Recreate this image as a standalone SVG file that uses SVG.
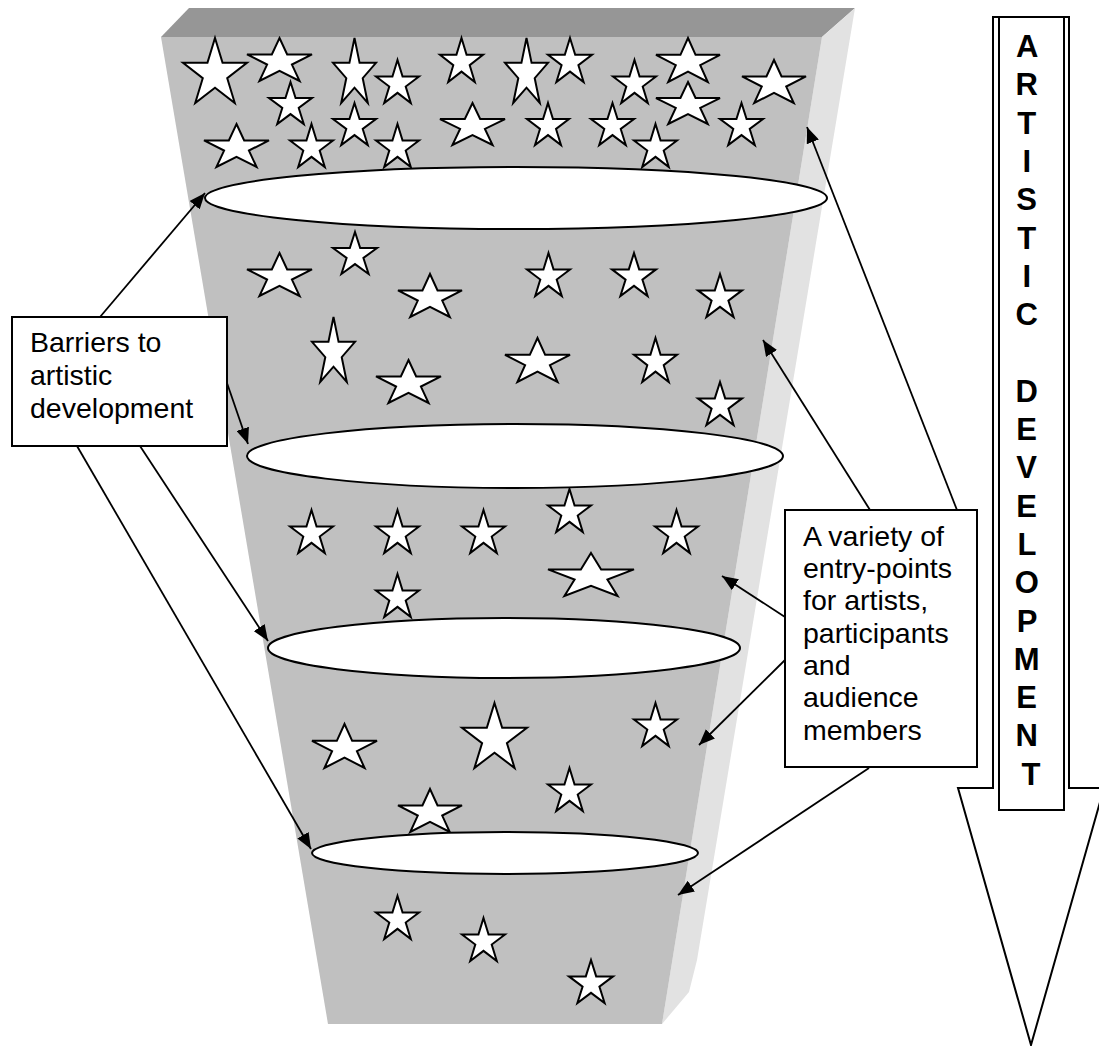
<svg xmlns="http://www.w3.org/2000/svg" xmlns:xlink="http://www.w3.org/1999/xlink" width="1099" height="1046" viewBox="0 0 1099 1046">
<style>
.star{fill:#fff;stroke:#000;stroke-width:2;stroke-linejoin:miter}
.ring{fill:#fff;stroke:#000;stroke-width:2}
.box{fill:#fff;stroke:#000;stroke-width:2}
.lbl{font-family:"Liberation Sans",Arial,sans-serif;font-size:28.5px;fill:#000}
.vert{font-family:"Liberation Sans",Arial,sans-serif;font-size:31px;font-weight:bold;fill:#000;text-anchor:middle}
.con{stroke:#000;stroke-width:1.8;fill:none;marker-end:url(#ah)}
</style>
<defs>
<path id="s" class="star" vector-effect="non-scaling-stroke" d="M50,0 L61.8,38.2 L100,38.2 L69.1,61.8 L80.9,100 L50,76.4 L19.1,100 L30.9,61.8 L0,38.2 L38.2,38.2 Z"/>
<marker id="ah" markerUnits="userSpaceOnUse" markerWidth="17" markerHeight="13" refX="16" refY="6.5" orient="auto">
<path d="M0,0 L16,6.5 L0,13 Z" fill="#000"/>
</marker>
</defs>
<rect width="1099" height="1046" fill="#fff"/>
<g id="funnel">
<polygon points="189,8 855,8 822,37 161,37" fill="#969696"/>
<polygon points="822,37 855,8 697,960 689,992 662,1024" fill="#e2e2e2"/>
<polygon points="161,37 822,37 662,1024 328,1024" fill="#c0c0c0"/>
</g>
<g id="stars">
<use href="#s" transform="translate(183,38) scale(0.64,0.65)"/>
<use href="#s" transform="translate(247,38) scale(0.65,0.43)"/>
<use href="#s" transform="translate(333,38) scale(0.43,0.65)"/>
<use href="#s" transform="translate(376,60) scale(0.43,0.43)"/>
<use href="#s" transform="translate(269,82) scale(0.43,0.42)"/>
<use href="#s" transform="translate(440,38) scale(0.43,0.44)"/>
<use href="#s" transform="translate(204,124) scale(0.65,0.43)"/>
<use href="#s" transform="translate(290,124) scale(0.43,0.43)"/>
<use href="#s" transform="translate(333,103) scale(0.43,0.42)"/>
<use href="#s" transform="translate(376,124) scale(0.43,0.43)"/>
<use href="#s" transform="translate(440,103) scale(0.65,0.42)"/>
<use href="#s" transform="translate(505,38) scale(0.43,0.65)"/>
<use href="#s" transform="translate(548,38) scale(0.44,0.44)"/>
<use href="#s" transform="translate(613,60) scale(0.43,0.43)"/>
<use href="#s" transform="translate(656,38) scale(0.64,0.44)"/>
<use href="#s" transform="translate(656,82) scale(0.64,0.42)"/>
<use href="#s" transform="translate(742,60) scale(0.64,0.43)"/>
<use href="#s" transform="translate(527,103) scale(0.42,0.42)"/>
<use href="#s" transform="translate(591,103) scale(0.43,0.42)"/>
<use href="#s" transform="translate(634,124) scale(0.43,0.43)"/>
<use href="#s" transform="translate(720,103) scale(0.43,0.42)"/>
<use href="#s" transform="translate(247,253) scale(0.65,0.43)"/>
<use href="#s" transform="translate(333,232) scale(0.44,0.42)"/>
<use href="#s" transform="translate(398,274) scale(0.64,0.43)"/>
<use href="#s" transform="translate(527,253) scale(0.43,0.43)"/>
<use href="#s" transform="translate(612,253) scale(0.44,0.43)"/>
<use href="#s" transform="translate(698,274) scale(0.44,0.43)"/>
<use href="#s" transform="translate(312,317) scale(0.43,0.65)"/>
<use href="#s" transform="translate(376,360) scale(0.65,0.43)"/>
<use href="#s" transform="translate(505,338) scale(0.65,0.44)"/>
<use href="#s" transform="translate(634,338) scale(0.43,0.44)"/>
<use href="#s" transform="translate(698,382) scale(0.44,0.43)"/>
<use href="#s" transform="translate(290,510) scale(0.43,0.43)"/>
<use href="#s" transform="translate(376,510) scale(0.43,0.43)"/>
<use href="#s" transform="translate(462,510) scale(0.43,0.43)"/>
<use href="#s" transform="translate(548,489) scale(0.43,0.43)"/>
<use href="#s" transform="translate(655,510) scale(0.43,0.43)"/>
<use href="#s" transform="translate(548,553) scale(0.86,0.43)"/>
<use href="#s" transform="translate(376,574) scale(0.43,0.43)"/>
<use href="#s" transform="translate(312,724) scale(0.65,0.44)"/>
<use href="#s" transform="translate(462,703) scale(0.65,0.65)"/>
<use href="#s" transform="translate(634,703) scale(0.43,0.43)"/>
<use href="#s" transform="translate(398,789) scale(0.64,0.43)"/>
<use href="#s" transform="translate(548,768) scale(0.43,0.43)"/>
<use href="#s" transform="translate(376,896) scale(0.43,0.43)"/>
<use href="#s" transform="translate(462,918) scale(0.43,0.43)"/>
<use href="#s" transform="translate(569,960) scale(0.44,0.43)"/>
</g>
<g id="barrier1"><ellipse class="ring" cx="516" cy="198" rx="311" ry="31"/></g>
<g id="barrier2"><ellipse class="ring" cx="515" cy="456" rx="268" ry="32"/></g>
<g id="barrier3"><ellipse class="ring" cx="504" cy="648" rx="236" ry="30"/></g>
<g id="barrier4"><ellipse class="ring" cx="505" cy="853" rx="193" ry="21"/></g>
<g id="box-barriers">
<rect class="box" x="12" y="317" width="215" height="129"/>
<text class="lbl" x="30" y="352">Barriers to</text>
<text class="lbl" x="30" y="385">artistic</text>
<text class="lbl" x="30" y="418">development</text>
</g>
<g id="box-entry">
<rect class="box" x="785" y="510" width="192" height="257"/>
<text class="lbl" x="803" y="546">A variety of</text>
<text class="lbl" x="803" y="578">entry-points</text>
<text class="lbl" x="803" y="610">for artists,</text>
<text class="lbl" x="803" y="643">participants</text>
<text class="lbl" x="803" y="675">and</text>
<text class="lbl" x="803" y="707">audience</text>
<text class="lbl" x="803" y="740">members</text>
</g>
<g id="arrow-development">
<polygon points="993,17 1069,17 1069,788 1104,788 1031,1045 958,788 993,788" fill="#fff" stroke="#000" stroke-width="2"/>
<rect class="box" x="999" y="17" width="65" height="793"/>
<text class="vert">
<tspan x="1031" y="57">A</tspan>
<tspan x="1031" y="95.3">R</tspan>
<tspan x="1031" y="133.6">T</tspan>
<tspan x="1031" y="171.9">I</tspan>
<tspan x="1031" y="210.2">S</tspan>
<tspan x="1031" y="248.5">T</tspan>
<tspan x="1031" y="286.8">I</tspan>
<tspan x="1031" y="325.1">C</tspan>
<tspan x="1031" y="401.7">D</tspan>
<tspan x="1031" y="440">E</tspan>
<tspan x="1031" y="478.3">V</tspan>
<tspan x="1031" y="516.6">E</tspan>
<tspan x="1031" y="554.9">L</tspan>
<tspan x="1031" y="593.2">O</tspan>
<tspan x="1031" y="631.5">P</tspan>
<tspan x="1031" y="669.8">M</tspan>
<tspan x="1031" y="708.1">E</tspan>
<tspan x="1031" y="746.4">N</tspan>
<tspan x="1031" y="784.7">T</tspan>
</text>
</g>
<g id="connectors">
<line class="con" x1="100" y1="317" x2="205" y2="193"/>
<line class="con" x1="227" y1="383" x2="248" y2="444"/>
<line class="con" x1="140" y1="446" x2="268" y2="641"/>
<line class="con" x1="77" y1="446" x2="311" y2="849"/>
<line class="con" x1="870" y1="510" x2="763" y2="340"/>
<line class="con" x1="957" y1="510" x2="807" y2="127"/>
<line class="con" x1="785" y1="617" x2="722" y2="576"/>
<line class="con" x1="785" y1="660" x2="699" y2="745"/>
<line class="con" x1="869" y1="768" x2="678" y2="895"/>
</g>
</svg>
